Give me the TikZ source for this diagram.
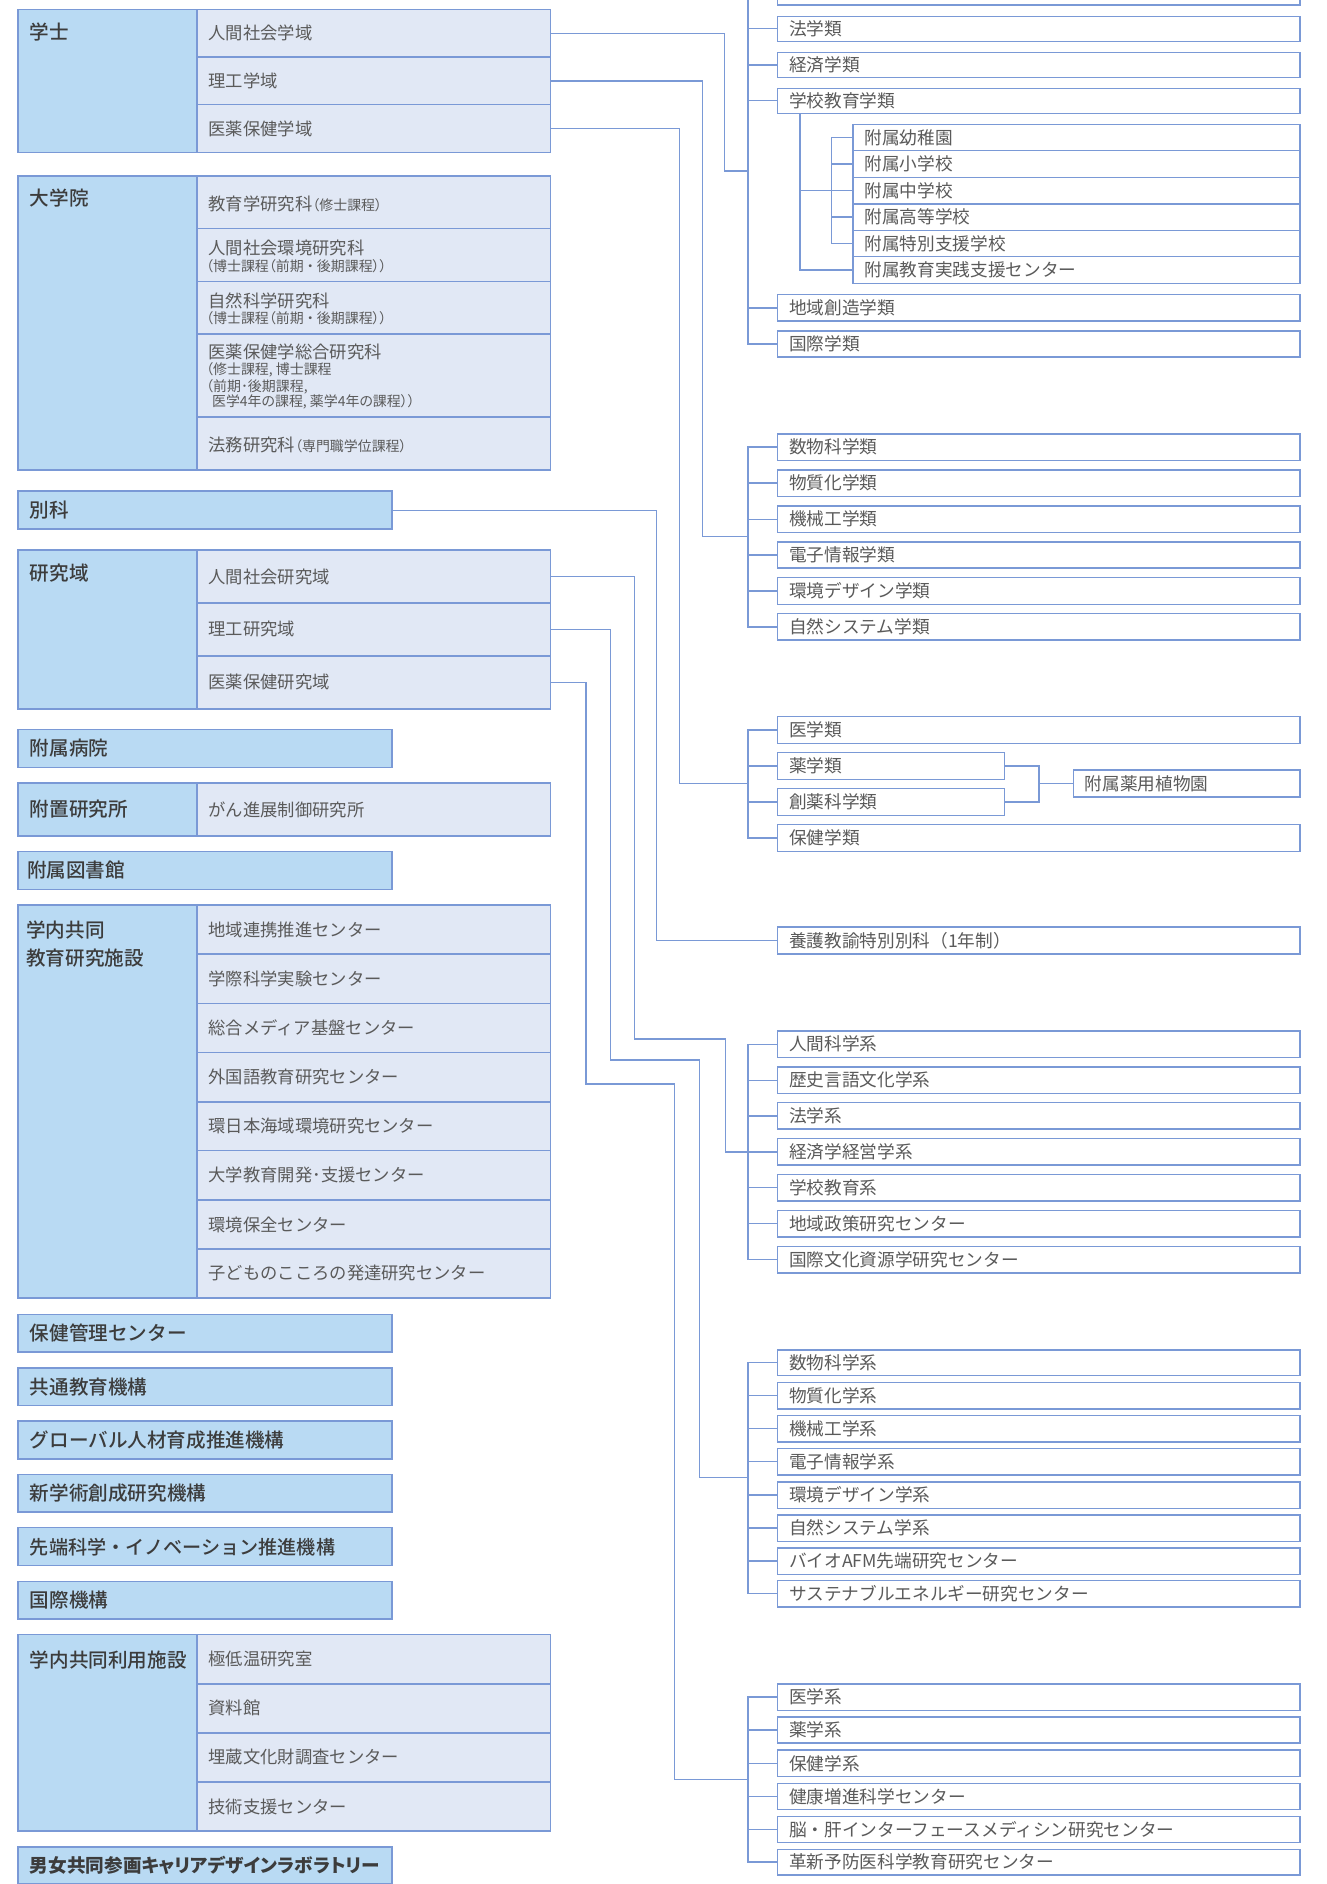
\documentclass[tikz,border=0pt]{standalone}
\usepackage{fontspec}
\setmainfont{Noto Sans CJK JP}[BoldFont={Noto Sans CJK JP Medium}]
\newfontfamily\jpp{Noto Sans CJK JP}[RawFeature=+palt]
\newfontfamily\jppb{Noto Sans CJK JP Medium}[RawFeature=+palt]
\usetikzlibrary{calc,backgrounds}
\definecolor{hdrfill}{HTML}{B9DAF3}
\definecolor{cellfill}{HTML}{E1E8F5}
\definecolor{bordc}{HTML}{7A99D6}
\definecolor{connc}{HTML}{7A99D6}
\definecolor{htxt}{HTML}{3C3C3C}
\definecolor{itxt}{HTML}{5A5A5A}
\newcommand\smf{\jpp\fontsize{11.6bp}{13bp}\selectfont}
\newcommand\bx[6]{%
  \pgfmathsetmacro\bxw{#5-#3}%
  \pgfmathsetmacro\bxh{#6-#4}%
  \node[#1,anchor=north west,minimum width=\bxw bp,minimum height=\bxh bp] (#2) at (#3,#4) {};}
\newcommand\lc[4]{\bx{cell}{#1}{163.8}{#2}{458.2}{#3}\node[ltext] (#1t) at ([xshift=9.6bp]#1.west) {#4};}
\newcommand\rb[6]{\bx{rbox}{#1}{#2}{#3}{#4}{#5}\node[rtext] (#1t) at ([xshift=9.3bp]#1.west) {#6};}
\newcommand\rr[4]{\rb{#1}{647.2}{#2}{1082}{#3}{#4}}
\newcommand\hs[4]{\bx{hdr}{#1}{14.9}{#2}{326.2}{#3}\node[htext] (#1t) at ([xshift=9.8bp]#1.west) {#4};}
\begin{document}
\begin{tikzpicture}[x=1bp,y=-1bp,
  box/.style={inner sep=0pt,outer sep=0pt,line width=1.2bp,draw=bordc},
  hdr/.style={box,fill=hdrfill},
  cell/.style={box,fill=cellfill},
  rbox/.style={box,fill=white},
  conn/.style={draw=connc,line width=1.1bp},
  htext/.style={anchor=west,inner sep=0pt,text=htxt,font=\fontsize{16.3bp}{19bp}\selectfont\bfseries},
  ltext/.style={anchor=west,inner sep=0pt,text=itxt,font=\fontsize{14.4bp}{17bp}\selectfont},
  rtext/.style={anchor=west,inner sep=0pt,text=itxt,font=\fontsize{14.7bp}{17bp}\selectfont},
  stext/.style={anchor=west,inner sep=0pt,text=itxt,font=\smf},
]
\useasboundingbox (0,0) rectangle (1104,1568);

% ---------------- left column ----------------
\bx{hdr}{gakushi}{14.9}{7.8}{458.2}{127.1}
\node[htext] (gakushit) at (24.7,26.9) {学士};
\lc{gs1}{7.8}{47.5}{人間社会学域}
\lc{gs2}{47.5}{87.2}{理工学域}
\lc{gs3}{87.2}{127.1}{医薬保健学域}

\bx{hdr}{daigakuin}{14.9}{146.3}{458.2}{391.3}
\node[htext] (daigakuint) at (24.7,165.1) {大学院};
\bx{cell}{dg1}{163.8}{146.3}{458.2}{190.1}
\node[ltext] (dg1t) at (173.4,170) {教育学研究科{\smf （修士課程）}};
\bx{cell}{dg2}{163.8}{190.1}{458.2}{234.2}
\node[ltext] (dg2t) at (173.4,206.7) {人間社会環境研究科};
\node[stext] (dg2s) at (171.4,221.2) {（博士課程（前期 ・ 後期課程））};
\bx{cell}{dg3}{163.8}{234.2}{458.2}{278.1}
\node[ltext] (dg3t) at (173.4,250.6) {自然科学研究科};
\node[stext] (dg3s) at (171.4,264.5) {（博士課程（前期 ・ 後期課程））};
\bx{cell}{dg4}{163.8}{278.1}{458.2}{347.2}
\node[ltext] (dg4t) at (173.4,293.3) {医薬保健学総合研究科};
\node[stext] (dg4s1) at (171.4,307.5) {（修士課程, 博士課程};
\node[stext] (dg4s2) at (171.4,321.9) {（前期･後期課程,};
\node[stext] (dg4s3) at (176.3,334.7) {医学4年の課程, 薬学4年の課程））};
\bx{cell}{dg5}{163.8}{347.2}{458.2}{391.3}
\node[ltext] (dg5t) at (173.4,370.5) {法務研究科{\smf （専門職学位課程）}};

\hs{bekka}{408.8}{440.4}{別科}

\bx{hdr}{kenkyuiki}{14.9}{457.9}{458.2}{590}
\node[htext] (kenkyuikit) at (24.7,476.8) {研究域};
\lc{ki1}{457.9}{501.8}{人間社会研究域}
\lc{ki2}{501.8}{545.9}{理工研究域}
\lc{ki3}{545.9}{590}{医薬保健研究域}

\hs{byouin}{607.2}{638.6}{附属病院}

\bx{hdr}{fuchi}{14.9}{651.6}{458.2}{695.8}
\node[htext] (fuchit) at (24.7,673.7) {附置研究所};
\lc{fc1}{651.6}{695.8}{がん進展制御研究所}

\bx{hdr}{toshokan}{14.9}{708.5}{326.2}{740.2}
\node[htext] (toshokant) at (22.3,724.4) {附属図書館};

\bx{hdr}{kyoudou}{14.9}{753.2}{458.2}{1080.1}
\node[htext] (kyoudout1) at (21.7,773.7) {学内共同};
\node[htext] (kyoudout2) at (21.7,797.3) {教育研究施設};
\lc{kd1}{753.2}{794}{地域連携推進センター}
\lc{kd2}{794}{835.1}{学際科学実験センター}
\lc{kd3}{835.1}{876.1}{総合メディア基盤センター}
\lc{kd4}{876.1}{917}{外国語教育研究センター}
\lc{kd5}{917}{957.7}{環日本海域環境研究センター}
\lc{kd6}{957.7}{998.8}{大学教育開発･支援センター}
\lc{kd7}{998.8}{1039.6}{環境保全センター}
\lc{kd8}{1039.6}{1080.1}{子どものこころの発達研究センター}

\hs{hoken}{1093.8}{1125.1}{保健管理センター}
\hs{kyoutsu}{1138.5}{1169.8}{共通教育機構}
\hs{global}{1182.8}{1214.1}{グローバル人材育成推進機構}
\hs{shingaku}{1227.1}{1258.4}{新学術創成研究機構}
\hs{sentan}{1271.5}{1303.1}{{\fontsize{15.9bp}{19bp}\selectfont 先端科学・イノベーション推進機構}}
\hs{kokusaik}{1316.1}{1347.5}{国際機構}

\bx{hdr}{riyou}{14.9}{1360.5}{458.2}{1523.9}
\node[htext] (riyout) at (24.7,1381.6) {学内共同利用施設};
\lc{ry1}{1360.5}{1401.4}{極低温研究室}
\lc{ry2}{1401.4}{1442.3}{資料館}
\lc{ry3}{1442.3}{1483}{埋蔵文化財調査センター}
\lc{ry4}{1483}{1523.9}{技術支援センター}

\hs{danjo}{1537.3}{1567.4}{{\jppb\fontsize{15.5bp}{19bp}\selectfont 男女共同参画キャリアデザインラボラトリー}}

% ---------------- right column ----------------
\bx{rbox}{jinbun}{647.2}{-18}{1082}{4.2}
\rr{hougaku}{13.6}{34.4}{法学類}
\rr{keizai}{43.6}{64.4}{経済学類}
\rr{gakkou}{73.5}{94.3}{学校教育学類}
\rb{yochien}{710.1}{103.5}{1082}{125.4}{附属幼稚園}
\rb{shou}{710.1}{125.4}{1082}{147.6}{附属小学校}
\rb{chuu}{710.1}{147.6}{1082}{169.6}{附属中学校}
\rb{koutou}{710.1}{169.6}{1082}{191.8}{附属高等学校}
\rb{tokushi}{710.1}{191.8}{1082}{213.7}{附属特別支援学校}
\rb{jissen}{710.1}{213.7}{1082}{235.9}{附属教育実践支援センター}
\rr{chiiki}{245.3}{267.3}{地域創造学類}
\rr{kokusai}{275.3}{297.2}{国際学類}

\rr{subutsu}{361.1}{383.2}{数物科学類}
\rr{busshitsu}{391}{413.2}{物質化学類}
\rr{kikai}{421}{443.2}{機械工学類}
\rr{denshi}{451}{472.9}{電子情報学類}
\rr{kankyou}{480.7}{502.9}{環境デザイン学類}
\rr{shizen}{510.6}{532.8}{自然システム学類}

\rr{igaku}{596.4}{618.6}{医学類}
\rb{yakugaku}{647.2}{626.4}{836.1}{648.6}{薬学類}
\rb{souyaku}{647.2}{656.3}{836.1}{678.5}{創薬科学類}
\rr{hokengaku}{686.3}{708.5}{保健学類}
\rb{shokubutsu}{893.3}{641}{1082}{663.3}{附属薬用植物園}

\rr{yougo}{771.6}{793.8}{養護教諭特別別科（1年制）}

\rr{ningen}{858.1}{880}{人間科学系}
\rr{rekishi}{888.1}{910}{歴史言語文化学系}
\rr{hougakukei}{917.8}{939.7}{法学系}
\rr{keiei}{947.7}{969.7}{経済学経営学系}
\rr{gakkoukei}{977.4}{999.7}{学校教育系}
\rr{seisaku}{1007.4}{1029.6}{地域政策研究センター}
\rr{bunka}{1037.4}{1059.3}{国際文化資源学研究センター}

\rr{subutsukei}{1123.4}{1145}{数物科学系}
\rr{busshitsukei}{1150.6}{1172.5}{物質化学系}
\rr{kikaikei}{1178}{1200}{機械工学系}
\rr{denshikei}{1205.6}{1227.5}{電子情報学系}
\rr{kankyoukei}{1233.3}{1255.3}{環境デザイン学系}
\rr{shizenkei}{1260.8}{1282.8}{自然システム学系}
\rr{afm}{1288.2}{1310.2}{バイオAFM先端研究センター}
\rr{sustain}{1315.5}{1337.3}{サステナブルエネルギー研究センター}

\rr{igakukei}{1401.5}{1423.4}{医学系}
\rr{yakugakukei}{1428.9}{1450.6}{薬学系}
\rr{hokenkei}{1456.4}{1478.6}{保健学系}
\rr{kenkou}{1484.2}{1506.1}{健康増進科学センター}
\rr{noukan}{1511.7}{1533.6}{脳・肝インターフェースメディシン研究センター}
\rr{kakushin}{1539.2}{1560.4}{革新予防医科学教育研究センター}

% ---------------- connectors ----------------
\coordinate (tr) at (622.4,0);
\coordinate (so) at (665.9,0);
\coordinate (si) at (691.8,0);
\coordinate (br) at (864.6,0);
\coordinate (ja) at (603.1,142.4);
\coordinate (jb) at (584.7,446.3);
\coordinate (jc) at (565.6,652.2);
\coordinate (jd) at (546.4,0);
\coordinate (je1) at (527.8,864.8);
\coordinate (je2) at (603.6,958.7);
\coordinate (jf1) at (508.1,882.2);
\coordinate (jf2) at (582.2,1229.5);
\coordinate (jg1) at (487.6,902.2);
\coordinate (jg2) at (561.4,1480.9);

\begin{pgfonlayer}{background}
\fill[white] (0,0) rectangle (1104,1568);
% trunks
\draw[conn] (jinbun.west) -- (jinbun.west -| tr) |- (kokusai.west);
\foreach \n in {hougaku,keizai,gakkou,chiiki} \draw[conn] (\n.west) -- (\n.west -| tr);
\draw[conn] (subutsu.west) -- (subutsu.west -| tr) |- (shizen.west);
\foreach \n in {busshitsu,kikai,denshi,kankyou} \draw[conn] (\n.west) -- (\n.west -| tr);
\draw[conn] (igaku.west) -- (igaku.west -| tr) |- (hokengaku.west);
\foreach \n in {yakugaku,souyaku} \draw[conn] (\n.west) -- (\n.west -| tr);
\draw[conn] (ningen.west) -- (ningen.west -| tr) |- (bunka.west);
\foreach \n in {rekishi,hougakukei,keiei,gakkoukei,seisaku} \draw[conn] (\n.west) -- (\n.west -| tr);
\draw[conn] (subutsukei.west) -- (subutsukei.west -| tr) |- (sustain.west);
\foreach \n in {busshitsukei,kikaikei,denshikei,kankyoukei,shizenkei,afm} \draw[conn] (\n.west) -- (\n.west -| tr);
\draw[conn] (igakukei.west) -- (igakukei.west -| tr) |- (kakushin.west);
\foreach \n in {yakugakukei,hokenkei,kenkou,noukan} \draw[conn] (\n.west) -- (\n.west -| tr);
% school sub-tree
\draw[conn] (so |- gakkou.south) |- (jissen.west);
\draw[conn] (so |- chuu.west) -- (chuu.west);
\draw[conn] (yochien.west) -- (yochien.west -| si) |- (tokushi.west);
\foreach \n in {shou,koutou} \draw[conn] (\n.west) -- (\n.west -| si);
% pharmacy bracket
\draw[conn] (yakugaku.east) -- (yakugaku.east -| br) |- (souyaku.east);
\draw[conn] (br |- shokubutsu.west) -- (shokubutsu.west);
% long routes
\draw[conn] (gs1.east) -| (ja) -- (ja -| tr);
\draw[conn] (gs2.east) -| (jb) -- (jb -| tr);
\draw[conn] (gs3.east) -| (jc) -- (jc -| tr);
\draw[conn] (bekka.east) -| (jd |- yougo.west) -- (yougo.west);
\draw[conn] (ki1.east) -| (je1) -| (je2) -- (je2 -| tr);
\draw[conn] (ki2.east) -| (jf1) -| (jf2) -- (jf2 -| tr);
\draw[conn] (ki3.east) -| (jg1) -| (jg2) -- (jg2 -| tr);
\end{pgfonlayer}
\end{tikzpicture}
\end{document}
